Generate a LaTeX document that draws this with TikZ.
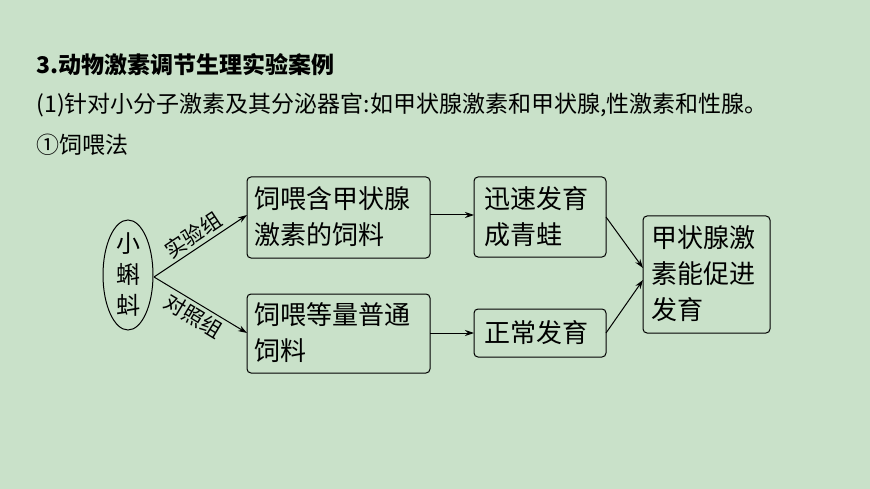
\documentclass[tikz,border=0pt]{standalone}
\usepackage{fontspec}
\setmainfont{Noto Sans CJK SC}
\usetikzlibrary{arrows.meta}
\definecolor{bg}{RGB}{201,225,201}
\begin{document}
\begin{tikzpicture}[x=1pt,y=-1pt,
 box/.style={draw,line width=1pt,rounded corners=4pt,align=left,font=\fontsize{26}{36}\selectfont,inner sep=0pt},
 arr/.style={line width=1pt,-{Stealth[length=9pt,width=6pt]}},
 lab/.style={font=\fontsize{21}{22}\selectfont,inner sep=3pt}]
\useasboundingbox[fill=bg] (0,0) rectangle (870,489);
\node[anchor=west,font=\fontsize{23}{24}\selectfont\bfseries] (t1) at (33,65) {3.动物激素调节生理实验案例};
\node[anchor=west,font=\fontsize{23}{24}\selectfont] (t2) at (33,105) {(1)针对小分子激素及其分泌器官:如甲状腺激素和甲状腺,性激素和性腺。};
\node[anchor=west,font=\fontsize{23}{24}\selectfont] (t3) at (33,145) {①饲喂法};
\draw[line width=1pt] (128,275) ellipse [x radius=25, y radius=55];
\node[font=\fontsize{24}{31}\selectfont,align=center,inner sep=0pt] (tad) at (128,275) {小\\蝌\\蚪};
\coordinate (sp) at (154,277);
\draw[box] (247,177) rectangle (430,258);
\node[box,draw=none,anchor=west] (b1) at (254,217) {饲喂含甲状腺\\激素的饲料};
\draw[box] (247,294) rectangle (430,373);
\node[box,draw=none,anchor=west] (b2) at (254,333) {饲喂等量普通\\饲料};
\draw[box] (474,177) rectangle (606,257);
\node[box,draw=none,anchor=west] (b3) at (484,217) {迅速发育\\成青蛙};
\draw[box] (474,309) rectangle (606,357);
\node[box,draw=none,anchor=west] (b4) at (484,333) {正常发育};
\draw[box] (643,216) rectangle (770,333);
\node[box,draw=none,anchor=west] (b5) at (651,274) {甲状腺激\\素能促进\\发育};
\coordinate (a1) at (247,215); \coordinate (a2) at (247,333);
\draw[arr] (sp) -- (a1) node[lab,pos=0.5,sloped,above] {实验组};
\draw[arr] (sp) -- (a2) node[lab,pos=0.5,sloped,below] {对照组};
\draw[arr] (430,215) -- (474,215);
\draw[arr] (430,333) -- (474,333);
\draw[arr] (606,217) -- (643,268);
\draw[arr] (606,333) -- (643,280);
\end{tikzpicture}
\end{document}
